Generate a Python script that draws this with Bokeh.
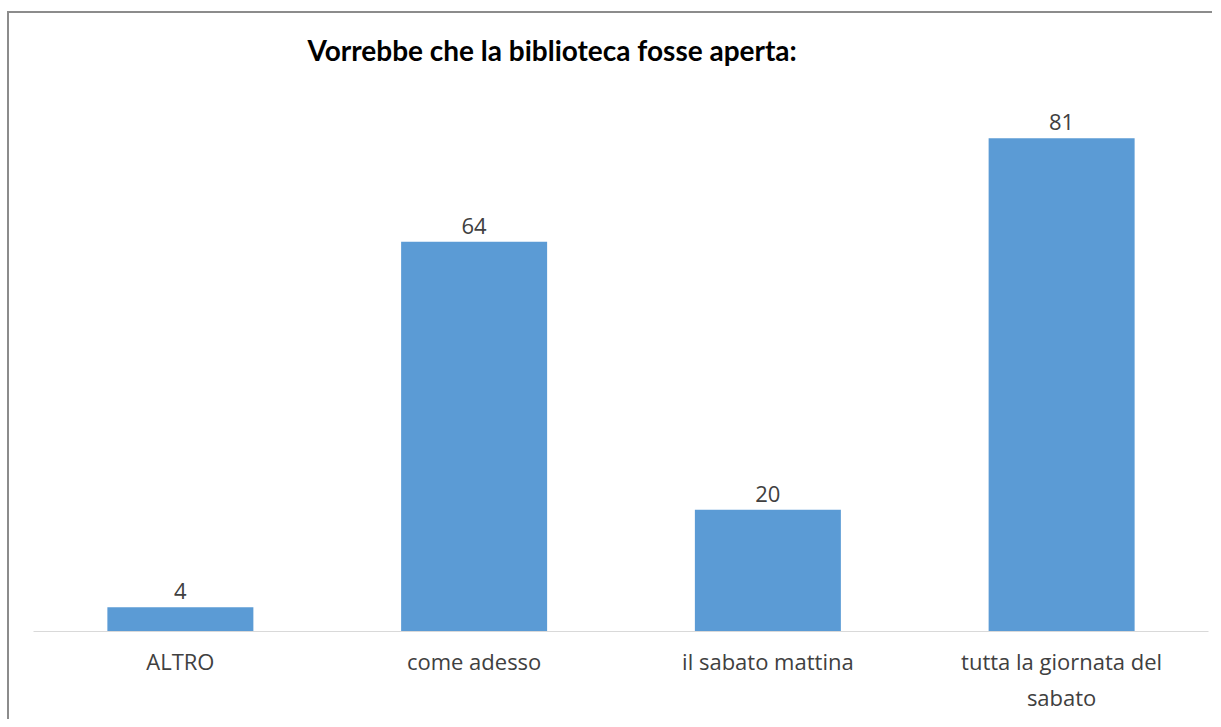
from bokeh.plotting import figure
from bokeh.models import ColumnDataSource, FactorRange, Range1d, LabelSet
from bokeh.core.properties import value
from bokeh.embed import file_html
from bokeh.resources import INLINE

categories = ["ALTRO", "come adesso", "il sabato mattina", "tutta la giornata del\nsabato"]
counts = [4, 64, 20, 81]
title_text = "Vorrebbe che la biblioteca fosse aperta:"

FONT = "Open Sans"
TITLE_FONT = "Lato"
BAR = "#5B9BD5"

src = ColumnDataSource(dict(cat=categories, val=counts, lbl=[str(v) for v in counts]))

p = figure(
    width=1205, height=708,
    x_range=FactorRange(*categories, range_padding=0.0),
    y_range=Range1d(0, 90),
    output_backend="svg", toolbar_location=None,
    min_border_left=24, min_border_right=6, min_border_top=70, min_border_bottom=90,
    title=title_text,
)
p.styles = {"margin-left": "7px", "margin-top": "11px",
            "border-top": "2px solid #8c8c8c", "border-left": "2px solid #8c8c8c"}
p.outline_line_color = None
p.background_fill_color = "white"
p.border_fill_color = "white"

p.title.align = "left"
p.title.offset = 274
p.title.standoff = 33
p.title.text_font = TITLE_FONT
p.title.text_font_size = "28px"
p.title.text_font_style = "bold"
p.title.text_color = "#000000"

p.vbar(x="cat", top="val", width=0.497, source=src, fill_color=BAR, line_color=None)

labels = LabelSet(x="cat", y="val", text="lbl", source=src, y_offset=8,
                  text_align="center", text_baseline="alphabetic",
                  text_font=value(FONT), text_font_size="22px", text_color="#404040")
p.add_layout(labels)

p.xgrid.visible = False
p.ygrid.visible = False
p.yaxis.visible = False
ax = p.xaxis[0]
ax.axis_line_color = "#D9D9D9"
ax.axis_line_width = 1
ax.major_tick_line_color = None
ax.minor_tick_line_color = None
ax.major_label_standoff = 8
ax.major_label_text_font = FONT
ax.major_label_text_font_size = "22px"
ax.major_label_text_color = "#404040"

open("out.html", "w").write(file_html(p, INLINE))
